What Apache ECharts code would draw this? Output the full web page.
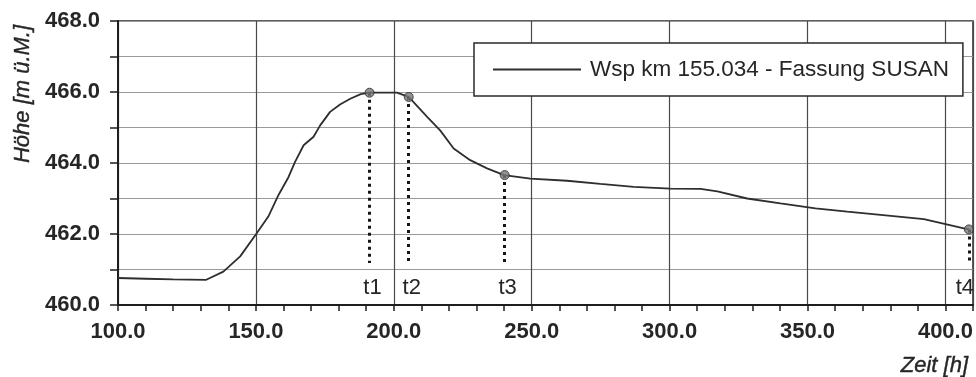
<!DOCTYPE html>
<html>
<head>
<meta charset="utf-8">
<script src="https://cdn.jsdelivr.net/npm/echarts@6/dist/echarts.min.js"></script>
<style>
html,body{margin:0;padding:0;background:#fff;}
#chart{width:976px;height:377px;}
</style>
</head>
<body>
<div id="chart"></div>
<script>
// ---- data ----
const seriesName = 'Wsp km 155.034 - Fassung SUSAN';
const timeH = [100, 110, 120, 132, 138.2, 144.3, 150.1, 154.5, 158.2, 161.8, 164.2, 167.3, 170.9, 173.3, 176.9, 180.5, 184.2, 188, 191.2, 201.1, 205.4, 212.1, 216.8, 221.7, 227.7, 233.8, 240.0, 249.5, 262.8, 274.9, 287, 300.3, 311.2, 317.3, 328.1, 340.2, 352.9, 364.4, 376.5, 392.2, 406.7, 408.5];
const level = [460.76, 460.74, 460.72, 460.71, 460.94, 461.37, 462.0, 462.49, 463.10, 463.6, 464.03, 464.5, 464.74, 465.06, 465.44, 465.65, 465.81, 465.94, 465.98, 465.98, 465.86, 465.30, 464.92, 464.41, 464.08, 463.85, 463.66, 463.56, 463.5, 463.41, 463.33, 463.28, 463.27, 463.2, 463.0, 462.86, 462.72, 462.63, 462.54, 462.42, 462.16, 462.13];
const eventNames = ['t1', 't2', 't3', 't4'];
const eventTime = [191.2, 205.4, 240.2, 408.5];
const eventLevel = [465.98, 465.86, 463.66, 462.13];
const eventBase = 461.18;
const xLabelTicks = [100, 150, 200, 250, 300, 350, 400];
const xMinorTicks = [100, 110, 120, 130, 140, 150, 160, 170, 180, 190, 200, 210, 220, 230, 240, 250, 260, 270, 280, 290, 300, 310, 320, 330, 340, 350, 360, 370, 380, 390, 400, 410];

// ---- build ----
const lineData = timeH.map((t, i) => [t, level[i]]);
const eventData = eventTime.map((t, i) => ({ name: eventNames[i], value: [t, eventLevel[i]] }));
const eventLines = eventTime.map((t, i) => [
  { coord: [t, eventLevel[i]] },
  { coord: [t, eventBase], label: { formatter: eventNames[i], offset: [i === eventTime.length - 1 ? -4 : 3, 0] } }
]);

const txt = '#262626';
const font = 'Liberation Sans, Arial, sans-serif';
const chart = echarts.init(document.getElementById('chart'), null, { renderer: 'canvas' });
chart.setOption({
  animation: false,
  backgroundColor: '#fff',
  grid: { left: 118, right: 3, top: 21, bottom: 72, show: true, borderColor: '#2a2a2a', borderWidth: 1.5, containLabel: false },
  legend: {
    data: [{ name: seriesName, icon: 'rect' }],
    left: 474, top: 43,
    padding: [15, 14, 15, 19],
    itemWidth: 88, itemHeight: 2,
    itemStyle: { color: '#2e2e2e' },
    backgroundColor: '#fff',
    borderColor: '#2a2a2a', borderWidth: 1.5,
    textStyle: { fontFamily: font, fontSize: 22.5, color: txt, padding: [0, 0, 0, 4] },
    selectedMode: false
  },
  xAxis: [
    {
      type: 'value', min: 100, max: 410, interval: 50, position: 'bottom',
      axisLine: { show: true, lineStyle: { color: '#1e1e1e', width: 2 } },
      axisTick: { show: true, length: 6, customValues: xMinorTicks, lineStyle: { color: '#1e1e1e', width: 1.5 } },
      axisLabel: {
        customValues: xLabelTicks, margin: 16,
        formatter: v => v.toFixed(1),
        fontFamily: font, fontSize: 22, fontWeight: 'bold', color: txt
      },
      splitLine: { show: false }
    },
    {
      type: 'value', min: 100, max: 410, interval: 50, position: 'top',
      axisLine: { show: false },
      axisTick: { show: false },
      axisLabel: { show: false },
      splitLine: { show: true, lineStyle: { color: '#4a4a4a', width: 1.2 } }
    }
  ],
  yAxis: {
    type: 'value', min: 460, max: 468, interval: 2,
    axisLine: { show: true, lineStyle: { color: '#1e1e1e', width: 2 } },
    axisTick: { show: true, length: 8, lineStyle: { color: '#1e1e1e', width: 1.5 } },
    minorTick: { show: true, splitNumber: 2, length: 8, lineStyle: { color: '#1e1e1e', width: 1.5 } },
    axisLabel: {
      margin: 18,
      formatter: v => v.toFixed(1),
      fontFamily: font, fontSize: 22, fontWeight: 'bold', color: txt
    },
    splitLine: { show: true, lineStyle: { color: '#9a9a9a', width: 1.2 } },
    minorSplitLine: { show: true, lineStyle: { color: '#9a9a9a', width: 1.2 } }
  },
  graphic: [
    { type: 'text', x: 23, y: 94, rotation: Math.PI / 2,
      style: { text: 'Höhe [m ü.M.]', fontFamily: font, fontSize: 22, fontStyle: 'italic', fill: txt, stroke: txt, lineWidth: 0.4, align: 'center', verticalAlign: 'middle' } },
    { type: 'text', x: 968, y: 366,
      style: { text: 'Zeit [h]', fontFamily: font, fontSize: 22, fontStyle: 'italic', fill: txt, stroke: txt, lineWidth: 0.4, align: 'right', verticalAlign: 'middle' } }
  ],
  series: [
    {
      name: seriesName, type: 'line', data: lineData, xAxisIndex: 0,
      symbol: 'none', showSymbol: false,
      lineStyle: { color: '#2e2e2e', width: 1.8 },
      itemStyle: { color: '#2e2e2e' },
      z: 3
    },
    {
      name: 'events', type: 'scatter', data: eventData, xAxisIndex: 0,
      symbol: 'circle', symbolSize: 9,
      itemStyle: { color: '#777', borderColor: '#2a2a2a', borderWidth: 1 },
      z: 5,
      markLine: {
        silent: true, symbol: ['none', 'none'],
        lineStyle: { type: [3, 4], color: '#151515', width: 3 },
        label: { show: true, position: 'end', distance: 14, fontFamily: font, fontSize: 22, color: txt },
        data: eventLines
      }
    }
  ]
});
</script>
</body>
</html>
